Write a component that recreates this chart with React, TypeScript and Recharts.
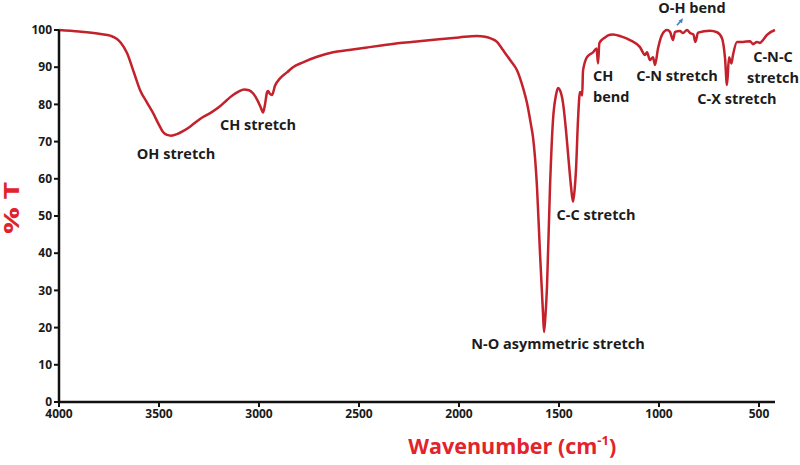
import React from 'react';
import { LineChart, Line, XAxis, YAxis, ReferenceDot } from 'recharts';

// FTIR spectrum (wavenumber in cm-1, transmittance in %)
const wavenumbers = [
  4000, 3900, 3800, 3740, 3710, 3690, 3660, 3625, 3595, 3560, 3530, 3500, 3480, 3460, 3440, 3410,
  3380, 3345, 3310, 3280, 3240, 3195, 3160, 3130, 3100, 3075, 3050, 3030, 3005, 2990, 2980, 2970,
  2960, 2955, 2945, 2935, 2920, 2895, 2860, 2830, 2780, 2710, 2630, 2550, 2460, 2380, 2295, 2200,
  2100, 2000, 1910, 1870, 1845, 1810, 1780, 1740, 1710, 1680, 1660, 1640, 1630, 1610, 1595, 1580,
  1575, 1568, 1560, 1545, 1530, 1515, 1505, 1495, 1480, 1465, 1455, 1440, 1430, 1422, 1415, 1405,
  1395, 1388, 1384, 1380, 1360, 1330, 1312, 1305, 1298, 1270, 1245, 1230, 1190, 1145, 1095, 1070,
  1060, 1045, 1030, 1020, 1005, 985, 960, 945, 930, 920, 895, 880, 860, 845, 828, 818, 805, 745,
  710, 685, 670, 660, 650, 638, 630, 610, 580, 545, 530, 510, 495, 480, 460, 420,
];
const transmittance = [
  100, 99.6, 99.0, 98.4, 97.6, 96.5, 93.8, 88.5, 83.9, 80.5, 77.7, 74.5, 72.6, 71.8, 71.6, 72,
  72.8, 74, 75.5, 76.6, 77.8, 79.5, 81.2, 82.5, 83.5, 84, 83.8, 83, 80.8, 79, 77.8, 80,
  83.2, 83.6, 82.8, 82.5, 85, 87, 88.6, 90, 91.3, 92.8, 94, 94.6, 95.3, 95.9, 96.5, 97,
  97.5, 98, 98.4, 98.2, 97.8, 96.8, 94.6, 91.6, 89.2, 84.5, 80.4, 74.5, 71.2, 57.8, 40, 23.9,
  18.8, 23, 31, 57.8, 75.8, 82.5, 84.4, 83.8, 80.4, 73, 66.9, 58, 53.8, 57, 62.4, 75.8,
  83.3, 83, 82.4, 89, 92.7, 94, 95, 91, 96.5, 98, 98.7, 98.8, 98.3, 97.3, 95.4, 93.3,
  94, 91.9, 92.7, 90.6, 95, 98.7, 100, 99.5, 97.3, 99.5, 99.7, 99.2, 100, 99.2, 98.8, 96.8, 99.3, 99.8,
  99.4, 97.8, 92.5, 85.2, 92.7, 91, 93.3, 96.8, 96.8, 97, 96.2, 96.8, 96.5, 97.3, 98.7, 100,
];

const xTicks = [4000, 3500, 3000, 2500, 2000, 1500, 1000, 500];
const yTicks = [0, 10, 20, 30, 40, 50, 60, 70, 80, 90, 100];

// band assignments, anchored at (wavenumber, %T)
const bandLabels = [
  { lines: ['OH stretch'], wn: 3415, t: 65.3, anchor: 'middle' },
  { lines: ['CH stretch'], wn: 3005, t: 73.1, anchor: 'middle' },
  { lines: ['N-O asymmetric stretch'], wn: 1505, t: 14.2, anchor: 'middle' },
  { lines: ['C-C stretch'], wn: 1315, t: 48.9, anchor: 'middle' },
  { lines: ['CH', 'bend'], wn: 1330, t: 86.3, anchor: 'start' },
  { lines: ['C-N stretch'], wn: 910, t: 86.3, anchor: 'middle' },
  { lines: ['C-X stretch'], wn: 610, t: 80.1, anchor: 'middle' },
  { lines: ['C-N-C', 'stretch'], wn: 430, t: 91.4, anchor: 'middle' },
  { lines: ['O-H bend'], wn: 835, t: 104.6, anchor: 'middle' },
];

const data = wavenumbers.map((wn, i) => ({ wn, t: transmittance[i] }));

const FONT = '"Open Sans", "DejaVu Sans", sans-serif';
const RED = '#e3232b';

function BandText({ cx, cy, lines, anchor }: any) {
  return (
    <text x={cx} y={cy} textAnchor={anchor} fontFamily={FONT} fontSize={14.5} fontWeight={700} fill="#1c1c1c">
      {lines.map((l: string, i: number) => (
        <tspan key={i} x={cx} dy={i === 0 ? 0 : 21}>
          {l}
        </tspan>
      ))}
    </text>
  );
}

function Arrow({ cx, cy }: any) {
  return (
    <g>
      <line x1={cx} y1={cy} x2={cx + 3.5} y2={cy - 4} stroke="#3a7fc4" strokeWidth={1.5} />
      <polygon points={`${cx + 6},${cy - 7} ${cx + 1.5},${cy - 4.5} ${cx + 5},${cy - 2}`} fill="#3a7fc4" />
    </g>
  );
}

function YTitle({ viewBox }: any) {
  const x = viewBox.x + 11;
  const y = viewBox.y + viewBox.height / 2 - 8;
  return (
    <text
      x={x}
      y={y}
      transform={`rotate(-90, ${x}, ${y})`}
      textAnchor="middle"
      dominantBaseline="central"
      fontFamily={FONT}
      fontSize={21}
      fontWeight={700}
      fill={RED}
      textLength={52}
      lengthAdjust="spacingAndGlyphs"
    >
      % T
    </text>
  );
}

function XTitle({ viewBox }: any) {
  const x = viewBox.x + viewBox.width * 0.633;
  const y = viewBox.y + 52;
  return (
    <text x={x} y={y} textAnchor="middle" fontFamily={FONT} fontSize={21.5} fontWeight={700} fill={RED}>
      Wavenumber (cm
      <tspan fontSize={13} dy={-9}>
        -1
      </tspan>
      <tspan dy={9}>)</tspan>
    </text>
  );
}

export default function App() {
  return (
    <div style={{ position: 'absolute', left: 0, top: 0, width: 800, height: 465, background: '#fff' }}>
      <LineChart width={800} height={465} data={data} margin={{ top: 30, right: 25, left: 0, bottom: 0 }}>
        <XAxis
          dataKey="wn"
          type="number"
          domain={[420, 4000]}
          reversed
          ticks={xTicks}
          interval={0}
          height={63}
          axisLine={{ stroke: '#111', strokeWidth: 2.5 }}
          tickLine={{ stroke: '#111', strokeWidth: 2 }}
          tickSize={5}
          tick={{ fill: '#1a1a1a', fontSize: 12, fontWeight: 700, fontFamily: FONT }}
          label={{ content: XTitle }}
        />
        <YAxis
          type="number"
          domain={[0, 100]}
          ticks={yTicks}
          interval={0}
          width={59}
          axisLine={{ stroke: '#111', strokeWidth: 2.5 }}
          tickLine={{ stroke: '#111', strokeWidth: 2 }}
          tickSize={5}
          tick={{ fill: '#1a1a1a', fontSize: 12, fontWeight: 700, fontFamily: FONT }}
          label={{ content: YTitle }}
        />
        <Line
          type="monotone"
          dataKey="t"
          stroke="#c3212b"
          strokeWidth={2.5}
          dot={false}
          isAnimationActive={false}
        />
        {bandLabels.map((b, i) => (
          <ReferenceDot
            key={i}
            x={b.wn}
            y={b.t}
            r={0}
            ifOverflow="visible"
            shape={(p: any) => <BandText cx={p.cx} cy={p.cy} lines={b.lines} anchor={b.anchor} />}
          />
        ))}
        <ReferenceDot x={910} y={101.3} r={0} ifOverflow="visible" shape={(p: any) => <Arrow cx={p.cx} cy={p.cy} />} />
      </LineChart>
    </div>
  );
}
